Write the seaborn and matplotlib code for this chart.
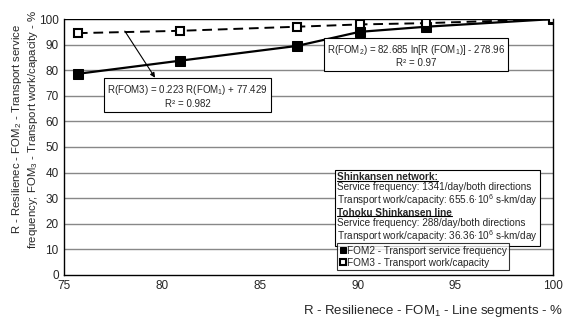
import numpy as np
import pandas as pd
import matplotlib
matplotlib.use("Agg")
import matplotlib.pyplot as plt
import seaborn as sns
from matplotlib.offsetbox import TextArea, VPacker, AnchoredOffsetbox
from matplotlib.lines import Line2D

# data
fom1 = [75.7, 80.9, 86.9, 90.1, 93.5, 100.0]
fom2 = [78.6, 83.7, 89.5, 95.0, 97.0, 100.0]
fom3 = [94.5, 95.4, 97.0, 97.9, 98.4, 100.0]

x_ticks = [75, 80, 85, 90, 95, 100]
y_ticks = [0, 10, 20, 30, 40, 50, 60, 70, 80, 90, 100]

info_lines = [
    ("Shinkansen network:", True),
    ("Service frequency: 1341/day/both directions", False),
    ("Transport work/capacity: 655.6·10$^6$ s-km/day", False),
    ("Tohoku Shinkansen line", True),
    ("Service frequency: 288/day/both directions", False),
    ("Transport work/capacity: 36.36·10$^6$ s-km/day", False),
]

df = pd.DataFrame({"fom1": fom1, "fom2": fom2, "fom3": fom3})

sns.set_style("white")
plt.rcParams["font.family"] = ["Liberation Sans", "DejaVu Sans"]
plt.rcParams["mathtext.fontset"] = "custom"
plt.rcParams["mathtext.rm"] = "Liberation Sans"

fig, ax = plt.subplots(figsize=(5.68, 3.23), dpi=100)
fig.subplots_adjust(left=0.113, right=0.974, bottom=0.149, top=0.941)

for y in y_ticks[1:-1]:
    ax.axhline(y, color="#888888", lw=1.0, zorder=0)
ax.axhline(100, color="black", lw=1.0, zorder=0)

sns.lineplot(data=df, x="fom1", y="fom2", ax=ax, color="black", lw=1.6,
             marker="s", markersize=7, markerfacecolor="black",
             markeredgecolor="black", label="FOM2 - Transport service frequency")
sns.lineplot(data=df, x="fom1", y="fom3", ax=ax, color="black", lw=1.4,
             linestyle=(0, (5, 3)), marker="s", markersize=6,
             markerfacecolor="white", markeredgecolor="black", markeredgewidth=1.5,
             label="FOM3 - Transport work/capacity")

ax.set_xlim(75, 100)
ax.set_ylim(0, 100)
ax.set_xticks(x_ticks)
ax.set_yticks(y_ticks)
ax.tick_params(axis="both", labelsize=8.5, length=3, direction="in", pad=4)
ax.tick_params(axis="y", length=0)
for side in ["left", "bottom", "right"]:
    ax.spines[side].set_color("black")
    ax.spines[side].set_linewidth(1.0)
ax.spines["top"].set_visible(False)

ax.set_xlabel("R - Resilienece - FOM$_1$ - Line segments - %", fontsize=9.5)
ax.xaxis.set_label_coords(0.753, -0.108)
ax.set_ylabel("R - Resilienec - FOM$_2$ - Transport service\nfrequency; FOM$_3$ - Transport work/capacity - %",
              fontsize=8.2)
ax.yaxis.set_label_coords(-0.05, 0.57)

box = dict(boxstyle="square,pad=0.3", fc="white", ec="black", lw=0.8)
ax.annotate("R(FOM3) = 0.223 R(FOM$_1$) + 77.429\nR² = 0.982",
            xy=(78.1, 95.3), xytext=(81.3, 70.0), textcoords="data",
            ha="center", va="center", fontsize=7, bbox=box, zorder=5,
            arrowprops=dict(arrowstyle="<|-", color="black", lw=0.8,
                            shrinkA=0, shrinkB=0, relpos=(0.32, 1.0)))
ax.text(93.0, 85.8, "R(FOM$_2$) = 82.685 ln[R (FOM$_1$)] - 278.96\nR² = 0.97",
        ha="center", va="center", fontsize=7, bbox=box, zorder=5)

# info box built from text rows
areas = []
for txt, bold in info_lines:
    areas.append(TextArea(txt, textprops=dict(fontsize=7.2, fontweight="bold" if bold else "normal")))
pack = VPacker(children=areas, align="left", pad=0, sep=0)
anch = AnchoredOffsetbox(loc="upper left", child=pack, pad=0.15, borderpad=0,
                         frameon=True, bbox_to_anchor=(0.554, 0.41),
                         bbox_transform=ax.transAxes)
anch.patch.set_boxstyle("square,pad=0")
anch.patch.set_edgecolor("black")
anch.patch.set_linewidth(0.8)
anch.set_zorder(5)
ax.add_artist(anch)

leg = ax.legend(loc="lower left", bbox_to_anchor=(0.557, 0.018), fontsize=7.2,
                frameon=True, fancybox=False, edgecolor="black",
                handlelength=0.7, handletextpad=0.1, borderpad=0.25,
                labelspacing=0.2, borderaxespad=0)
leg.get_frame().set_linewidth(0.8)
for h in leg.legend_handles:
    h.set_linestyle("none")
    h.set_markersize(5)
leg.set_zorder(6)

# underline the bold headings
fig.canvas.draw()
for area, (txt, bold) in zip(areas, info_lines):
    if bold:
        bb = area.get_window_extent()
        y0 = bb.y0 + 1.5
        fig.add_artist(Line2D([bb.x0, bb.x1], [y0, y0], transform=None,
                              color="black", lw=0.8, zorder=6))

fig.savefig("out.png", dpi=100)
